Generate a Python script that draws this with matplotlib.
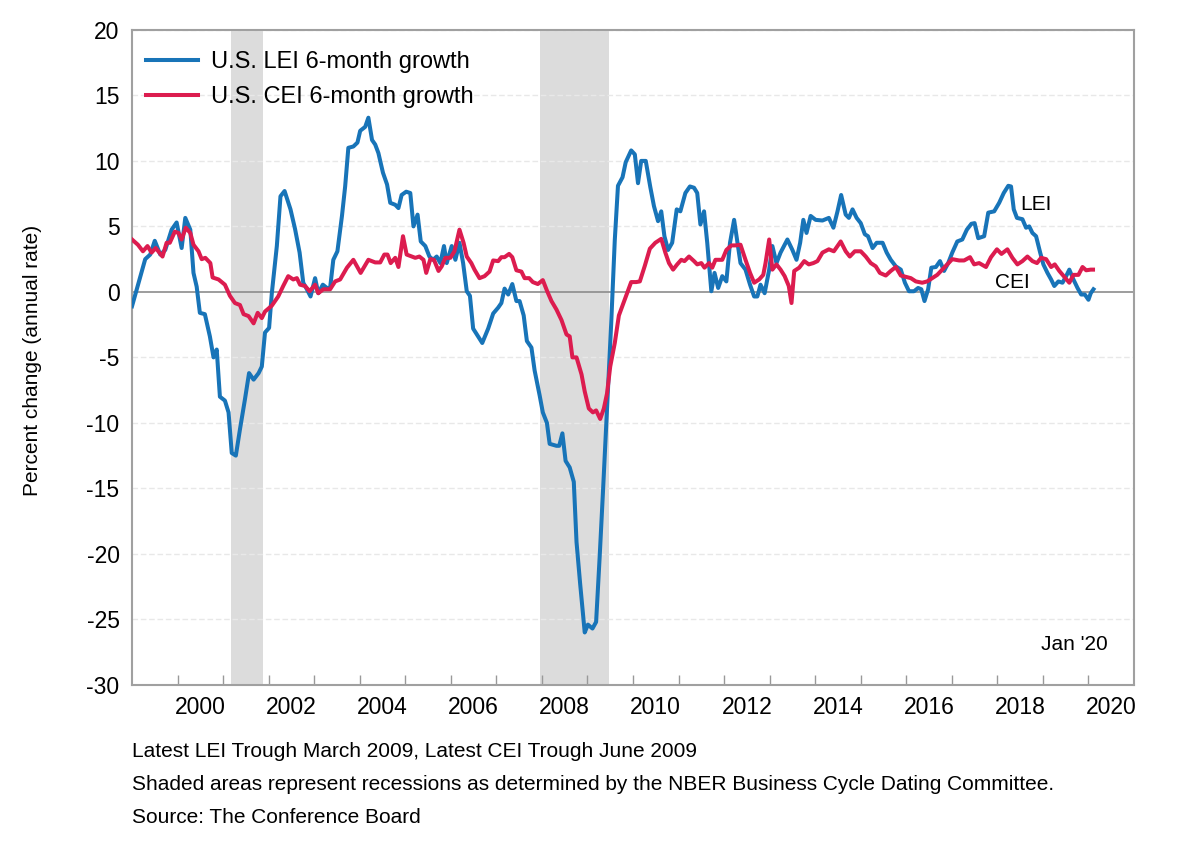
import matplotlib
matplotlib.use('Agg')
import matplotlib.pyplot as plt
import numpy as np

plt.rcParams['font.family'] = ['Liberation Sans', 'DejaVu Sans']

# LEI 6-month growth (annual rate), x in fractional years
lei_t = [1999.0, 1999.29, 1999.4, 1999.5, 1999.62, 1999.73, 1999.87, 1999.98, 2000.09, 2000.17,
         2000.28, 2000.35, 2000.42, 2000.49, 2000.6, 2000.71, 2000.79, 2000.86, 2000.93, 2001.04,
         2001.12, 2001.19, 2001.28, 2001.37, 2001.48, 2001.57, 2001.67, 2001.78, 2001.85, 2001.92,
         2002.01, 2002.07, 2002.18, 2002.26, 2002.35, 2002.48, 2002.58, 2002.68, 2002.76, 2002.84,
         2002.92, 2003.02, 2003.09, 2003.19, 2003.28, 2003.35, 2003.42, 2003.51, 2003.61, 2003.68,
         2003.75, 2003.86, 2003.95, 2004.01, 2004.12, 2004.19, 2004.27, 2004.34, 2004.41, 2004.51,
         2004.6, 2004.67, 2004.78, 2004.85, 2004.92, 2005.02, 2005.11, 2005.18, 2005.27, 2005.34,
         2005.44, 2005.53, 2005.61, 2005.69, 2005.77, 2005.85, 2005.91, 2006.02, 2006.1, 2006.19,
         2006.27, 2006.35, 2006.42, 2006.49, 2006.6, 2006.69, 2006.82, 2006.93, 2007.04, 2007.11,
         2007.18, 2007.26, 2007.35, 2007.44, 2007.51, 2007.6, 2007.67, 2007.77, 2007.84, 2007.95,
         2008.02, 2008.11, 2008.17, 2008.32, 2008.38, 2008.45, 2008.52, 2008.61, 2008.7, 2008.76,
         2008.84, 2008.94, 2009.01, 2009.11, 2009.19, 2009.27, 2009.34, 2009.43, 2009.52, 2009.6,
         2009.67, 2009.77, 2009.84, 2009.96, 2010.04, 2010.11, 2010.18, 2010.28, 2010.38, 2010.46,
         2010.55, 2010.62, 2010.69, 2010.77, 2010.86, 2010.96, 2011.04, 2011.15, 2011.25, 2011.34,
         2011.41, 2011.48, 2011.56, 2011.63, 2011.72, 2011.79, 2011.87, 2011.96, 2012.05, 2012.13,
         2012.22, 2012.29, 2012.36, 2012.47, 2012.57, 2012.66, 2012.73, 2012.8, 2012.89, 2012.99,
         2013.06, 2013.15, 2013.24, 2013.39, 2013.5, 2013.59, 2013.67, 2013.74, 2013.81, 2013.9,
         2014.01, 2014.16, 2014.3, 2014.4, 2014.49, 2014.57, 2014.67, 2014.74, 2014.82, 2014.91,
         2015.0, 2015.09, 2015.16, 2015.26, 2015.35, 2015.48, 2015.57, 2015.66, 2015.77, 2015.88,
         2015.97, 2016.06, 2016.17, 2016.26, 2016.33, 2016.4, 2016.48, 2016.55, 2016.65, 2016.74,
         2016.83, 2016.92, 2017.01, 2017.12, 2017.23, 2017.33, 2017.43, 2017.5, 2017.58, 2017.71,
         2017.8, 2017.93, 2018.04, 2018.14, 2018.24, 2018.3, 2018.36, 2018.43, 2018.55, 2018.63,
         2018.7, 2018.77, 2018.85, 2018.94, 2019.01, 2019.1, 2019.18, 2019.25, 2019.34, 2019.43,
         2019.51, 2019.58, 2019.67, 2019.76, 2019.84, 2019.92, 2020.0, 2020.05, 2020.11]
lei_v = [-1.1, 2.5, 2.85, 3.9, 2.85, 3.2, 4.75, 5.3, 3.35, 5.65,
         4.75, 1.45, 0.4, -1.6, -1.7, -3.4, -5.0, -4.4, -8.0, -8.3,
         -9.2, -12.3, -12.5, -10.5, -8.2, -6.2, -6.7, -6.2, -5.7, -3.1,
         -2.75, -0.1, 3.5, 7.3, 7.7, 6.3, 4.8, 3.0, 0.7, 0.2,
         -0.35, 1.05, -0.1, 0.55, 0.3, 0.3, 2.45, 3.1, 5.8, 8.05,
         11.0, 11.1, 11.4, 12.3, 12.6, 13.3, 11.6, 11.25, 10.6, 9.1,
         8.2, 6.8, 6.65, 6.4, 7.4, 7.65, 7.55, 5.0, 5.9, 3.85,
         3.5, 2.7, 2.45, 2.7, 2.2, 3.5, 2.2, 3.5, 2.45, 3.75,
         2.2, 0.05, -0.3, -2.8, -3.4, -3.9, -2.8, -1.65, -1.2, -0.85,
         0.25, -0.2, 0.6, -0.7, -0.7, -1.8, -3.75, -4.25, -6.0, -7.9,
         -9.2, -10.0, -11.6, -11.75, -11.75, -10.8, -12.9, -13.4, -14.5, -19.1,
         -22.3, -26.0, -25.4, -25.7, -25.2, -20.1, -15.3, -8.9, -2.5, 3.95,
         8.1, 8.75, 9.9, 10.8, 10.5, 8.3, 10.0, 10.0, 8.0, 6.55,
         5.4, 6.15, 4.25, 3.2, 3.75, 6.3, 6.15, 7.55, 8.05, 7.95,
         7.55, 5.15, 6.15, 3.75, 0.05, 1.45, 0.3, 1.2, 0.8, 3.75,
         5.5, 3.85, 2.2, 1.7, 0.55, -0.35, -0.35, 0.55, -0.1, 1.7,
         3.5, 2.2, 3.0, 4.0, 3.2, 2.45, 3.75, 5.5, 4.5, 5.8,
         5.5, 5.45, 5.65, 4.9, 6.15, 7.4, 5.9, 5.65, 6.3, 5.65,
         5.25, 4.4, 4.25, 3.35, 3.75, 3.75, 3.0, 2.45, 1.95, 1.7,
         0.7, 0.05, 0.05, 0.3, 0.2, -0.7, 0.2, 1.85, 1.9, 2.35,
         1.6, 2.2, 3.0, 3.85, 4.0, 4.75, 5.2, 5.25, 4.1, 4.25,
         6.05, 6.15, 6.8, 7.55, 8.1, 8.05, 6.3, 5.65, 5.55, 4.9,
         5.0, 4.5, 4.25, 3.0, 2.1, 1.45, 0.95, 0.45, 0.8, 0.7,
         1.2, 1.7, 0.95, 0.3, -0.2, -0.2, -0.6, -0.1, 0.2]

# CEI 6-month growth (annual rate)
cei_t = [1999.0, 1999.13, 1999.24, 1999.34, 1999.43, 1999.52, 1999.67, 1999.76, 1999.83, 1999.94,
         2000.02, 2000.09, 2000.18, 2000.28, 2000.35, 2000.46, 2000.53, 2000.61, 2000.72, 2000.77,
         2000.9, 2001.04, 2001.15, 2001.26, 2001.37, 2001.45, 2001.56, 2001.67, 2001.76, 2001.85,
         2001.92, 2002.07, 2002.21, 2002.32, 2002.43, 2002.54, 2002.62, 2002.69, 2002.8, 2002.9,
         2003.02, 2003.09, 2003.2, 2003.35, 2003.46, 2003.57, 2003.72, 2003.86, 2004.02, 2004.19,
         2004.34, 2004.45, 2004.54, 2004.61, 2004.68, 2004.78, 2004.85, 2004.95, 2005.03, 2005.14,
         2005.22, 2005.31, 2005.4, 2005.46, 2005.55, 2005.63, 2005.73, 2005.8, 2005.88, 2005.99,
         2006.08, 2006.19, 2006.28, 2006.35, 2006.45, 2006.52, 2006.63, 2006.74, 2006.85, 2006.93,
         2007.04, 2007.11, 2007.18, 2007.28, 2007.35, 2007.44, 2007.55, 2007.62, 2007.72, 2007.8,
         2007.91, 2008.02, 2008.11, 2008.21, 2008.32, 2008.43, 2008.54, 2008.61, 2008.67, 2008.76,
         2008.87, 2008.94, 2009.03, 2009.12, 2009.19, 2009.28, 2009.36, 2009.43, 2009.5, 2009.6,
         2009.69, 2009.79, 2009.89, 2009.96, 2010.07, 2010.15, 2010.26, 2010.37, 2010.49, 2010.62,
         2010.71, 2010.79, 2010.88, 2010.97, 2011.06, 2011.13, 2011.23, 2011.34, 2011.41, 2011.5,
         2011.57, 2011.67, 2011.74, 2011.81, 2011.96, 2012.05, 2012.16, 2012.25, 2012.36, 2012.47,
         2012.57, 2012.66, 2012.77, 2012.86, 2012.91, 2012.99, 2013.06, 2013.15, 2013.24, 2013.33,
         2013.42, 2013.48, 2013.54, 2013.65, 2013.76, 2013.86, 2013.96, 2014.05, 2014.16, 2014.3,
         2014.41, 2014.56, 2014.67, 2014.76, 2014.87, 2015.0, 2015.11, 2015.22, 2015.33, 2015.42,
         2015.55, 2015.66, 2015.77, 2015.88, 2015.99, 2016.1, 2016.21, 2016.35, 2016.46, 2016.57,
         2016.68, 2016.79, 2016.9, 2017.01, 2017.16, 2017.27, 2017.4, 2017.49, 2017.6, 2017.75,
         2017.86, 2017.99, 2018.09, 2018.22, 2018.33, 2018.44, 2018.55, 2018.66, 2018.77, 2018.87,
         2018.96, 2019.07, 2019.18, 2019.26, 2019.36, 2019.47, 2019.58, 2019.67, 2019.78, 2019.87,
         2019.95, 2020.05, 2020.1]
cei_v = [4.0, 3.6, 3.1, 3.5, 3.0, 3.35, 2.7, 3.75, 3.75, 4.6,
         4.5, 4.0, 4.9, 4.5, 3.6, 3.1, 2.5, 2.6, 2.2, 1.1,
         0.95, 0.55, -0.3, -0.85, -1.0, -1.7, -1.85, -2.4, -1.6, -2.0,
         -1.5, -1.05, -0.35, 0.45, 1.2, 0.95, 1.05, 0.55, 0.45, 0.05,
         0.55, -0.1, 0.2, 0.2, 0.8, 0.95, 1.85, 2.45, 1.45, 2.45,
         2.25, 2.25, 2.85, 2.85, 2.2, 2.6, 1.9, 4.25, 2.85, 2.7,
         2.6, 2.7, 2.45, 1.45, 2.5, 2.45, 1.6, 1.95, 2.6, 2.6,
         3.1, 4.75, 3.75, 2.7, 2.2, 1.7, 1.05, 1.2, 1.55, 2.4,
         2.35, 2.65, 2.65, 2.9, 2.65, 1.65, 1.55, 1.05, 1.05, 0.75,
         0.6, 0.9, 0.1, -0.7, -1.35, -2.15, -3.25, -3.4, -5.0, -5.0,
         -6.3, -7.6, -8.9, -9.2, -9.05, -9.7, -8.9, -7.75, -5.7, -3.9,
         -1.8, -0.85, 0.1, 0.75, 0.75, 0.8, 2.0, 3.3, 3.75, 4.05,
         3.0, 2.2, 1.7, 2.1, 2.45, 2.35, 2.7, 2.35, 2.1, 2.2,
         1.85, 2.2, 1.85, 2.45, 2.45, 3.2, 3.55, 3.55, 3.6, 2.45,
         1.45, 0.7, 0.95, 1.3, 2.2, 4.0, 1.7, 2.1, 1.7, 1.2,
         0.45, -0.85, 1.6, 1.85, 2.35, 2.1, 2.2, 2.35, 3.0, 3.25,
         3.1, 3.85, 3.1, 2.7, 3.1, 3.1, 2.7, 2.2, 1.95, 1.45,
         1.25, 1.6, 1.9, 1.25, 1.15, 1.05, 0.8, 0.7, 0.8, 1.05,
         1.3, 1.7, 2.1, 2.5, 2.4, 2.4, 2.65, 2.1, 2.2, 1.9,
         2.65, 3.25, 2.9, 3.25, 2.6, 2.1, 2.35, 2.7, 2.35, 2.2,
         2.6, 2.5, 1.9, 2.1, 1.6, 1.15, 0.7, 1.3, 1.3, 1.9,
         1.65, 1.7, 1.7]

# NBER recessions (Mar-Nov 2001, Dec 2007-Jun 2009)
recessions = [(2001.17, 2001.87), (2007.96, 2009.47)]

year_labels = list(range(2000, 2021, 2))
footnotes = ['Latest LEI Trough March 2009, Latest CEI Trough June 2009',
             'Shaded areas represent recessions as determined by the NBER Business Cycle Dating Committee.',
             'Source: The Conference Board']

BLUE = '#1874b8'
RED = '#dc1c4f'

fig = plt.figure(figsize=(12, 8.55), dpi=100)
ax = fig.add_axes([0.11, 0.199, 0.835, 0.766])

for start, end in recessions:
    ax.axvspan(start, end, color='#dcdcdc', lw=0, zorder=0)

for y in range(-30, 21, 5):
    if y == 0:
        ax.axhline(0, color='#8c8c8c', lw=1.2, zorder=1)
    else:
        ax.axhline(y, color='#e8e8e8', lw=1.0, ls=(0, (4, 2)), zorder=0.5)

ax.plot(lei_t, lei_v, color=BLUE, lw=2.9, label='U.S. LEI 6-month growth', zorder=3,
        solid_joinstyle='round')
ax.plot(cei_t, cei_v, color=RED, lw=2.9, label='U.S. CEI 6-month growth', zorder=4,
        solid_joinstyle='round')

ax.set_xlim(1999, 2021)
ax.set_ylim(-30, 20)

# year ticks at January, labels centred mid-year
ax.set_xticks(np.arange(2000, 2021))
ax.set_xticklabels([])
ax.set_xticks([y + 0.5 for y in year_labels], minor=True)
ax.set_xticklabels([str(y) for y in year_labels], minor=True, fontsize=16.5)
ax.tick_params(axis='x', which='major', direction='in', length=7, width=1, color='#999999')
ax.tick_params(axis='x', which='minor', length=0, pad=8)
ax.set_yticks(range(-30, 21, 5))
ax.set_yticklabels([str(y) for y in range(-30, 21, 5)], fontsize=16.5)
ax.tick_params(axis='y', length=0, pad=9)

for s in ax.spines.values():
    s.set_color('#a0a0a0')
    s.set_linewidth(1.5)

leg = ax.legend(loc='upper left', bbox_to_anchor=(0.0045, 0.9824), frameon=False,
                fontsize=17, handlelength=2.2, handletextpad=0.55, labelspacing=0.55,
                borderaxespad=0, borderpad=0.4)

ax.text(2018.5, 6.7, 'LEI', fontsize=15, va='center', ha='left')
ax.text(2017.95, 0.75, 'CEI', fontsize=15, va='center', ha='left')
ax.text(2020.43, -26.9, "Jan '20", fontsize=15, va='center', ha='right')

fig.text(0.027, 0.578, 'Percent change (annual rate)', rotation=90, fontsize=15,
         ha='center', va='center')

for i, line in enumerate(footnotes):
    fig.text(0.11, [0.1205, 0.082, 0.0444][i], line, fontsize=15, va='center', ha='left')

fig.savefig('out.png', dpi=100)
